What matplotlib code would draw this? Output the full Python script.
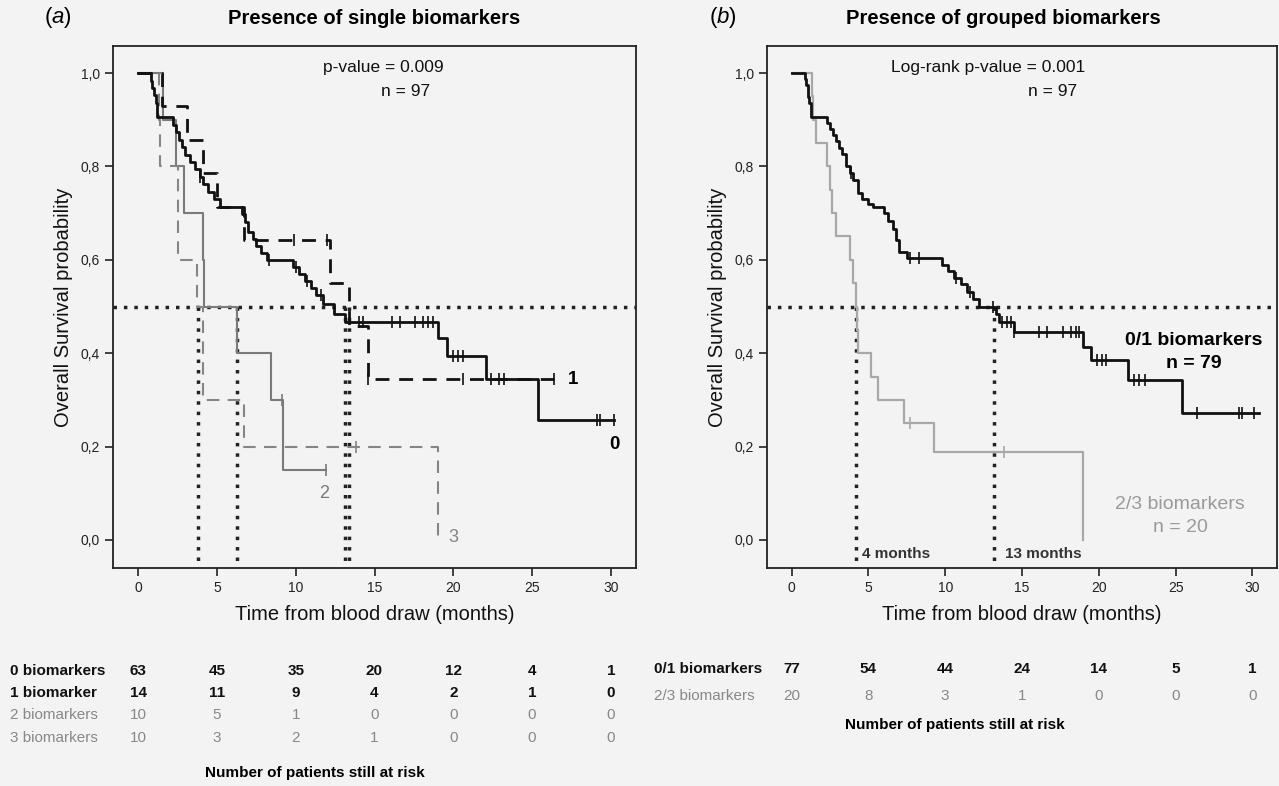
import numpy as np
import matplotlib
matplotlib.use('Agg')
import matplotlib.pyplot as plt
from matplotlib.transforms import blended_transform_factory

plt.rcParams['font.family'] = ['Liberation Sans', 'DejaVu Sans']
plt.rcParams['mathtext.fontset'] = 'custom'
plt.rcParams['mathtext.it'] = 'Liberation Sans:italic'
plt.rcParams['mathtext.rm'] = 'Liberation Sans'

# ---- panel (a): single biomarkers (step times in months, survival after step)
t0 = [0, 0.8, 0.9, 1.0, 1.1, 1.2, 2.2, 2.4, 2.6, 2.8, 3.0, 3.3, 3.6, 3.9, 4.1, 4.4, 4.8, 5.2,
      6.6, 6.8, 7.0, 7.3, 7.5, 7.8, 8.2, 9.8, 10.2, 10.6, 11.0, 11.3, 11.7, 12.4, 13.1,
      19.0, 19.6, 22.1, 25.4, 30.2]
s0 = [1.0, 0.984, 0.968, 0.952, 0.936, 0.905, 0.889, 0.873, 0.857, 0.841, 0.825, 0.81, 0.794,
      0.778, 0.762, 0.746, 0.73, 0.714, 0.698, 0.68, 0.66, 0.645, 0.63, 0.615, 0.60, 0.585,
      0.57, 0.555, 0.54, 0.525, 0.505, 0.485, 0.467, 0.433, 0.394, 0.345, 0.258, 0.258]
c0 = [3.9, 8.3, 10.0, 10.7, 11.6, 14.0, 14.3, 16.1, 16.6, 17.6, 18.1, 18.4, 18.7,
      20.0, 20.3, 20.6, 22.4, 22.9, 23.2, 29.1, 29.3, 30.2]

t1 = [0, 1.5, 3.1, 4.1, 5.0, 6.7, 12.2, 13.4, 14.6, 26.4]
s1 = [1.0, 0.929, 0.857, 0.786, 0.714, 0.643, 0.551, 0.459, 0.344, 0.344]
c1 = [9.9, 12.0, 14.6, 20.6, 26.4]

t2 = [0, 1.6, 2.4, 2.9, 4.1, 4.2, 6.3, 8.4, 9.2, 11.9]
s2 = [1.0, 0.9, 0.8, 0.7, 0.6, 0.5, 0.4, 0.3, 0.15, 0.15]
c2 = [9.15, 11.9]

t3 = [0, 1.3, 1.4, 2.55, 3.75, 4.1, 6.7, 19.0]
s3 = [1.0, 0.9, 0.8, 0.6, 0.5, 0.3, 0.2, 0.0]
c3 = [13.8]

medians_a = [3.8, 6.25, 13.1, 13.4]

# ---- panel (b): grouped biomarkers
tb = [0, 0.85, 0.95, 1.05, 1.1, 1.15, 1.25, 2.3, 2.5, 2.7, 2.9, 3.1, 3.3, 3.55, 3.8, 4.0, 4.3,
      4.6, 5.0, 5.3, 6.0, 6.3, 6.6, 6.8, 7.0, 7.5, 9.8, 10.2, 10.6, 11.0, 11.4, 11.8, 12.2,
      13.3, 13.5, 14.5, 19.0, 19.5, 21.9, 25.4, 30.4]
sb = [1.0, 0.987, 0.974, 0.961, 0.948, 0.935, 0.906, 0.893, 0.88, 0.867, 0.854, 0.84, 0.827,
      0.80, 0.787, 0.772, 0.743, 0.73, 0.72, 0.713, 0.70, 0.683, 0.667, 0.643, 0.617, 0.604,
      0.59, 0.576, 0.562, 0.548, 0.532, 0.516, 0.5, 0.483, 0.467, 0.445, 0.413, 0.385, 0.343,
      0.272, 0.272]
cb = [3.9, 7.7, 8.3, 10.7, 11.6, 13.1, 13.7, 14.0, 14.3, 14.5, 16.1, 16.6, 17.7, 18.2, 18.5,
      18.7, 19.9, 20.2, 20.5, 22.3, 22.6, 23.0, 26.4, 29.1, 29.3, 30.1]

tg = [0, 1.3, 1.4, 1.6, 2.3, 2.5, 2.6, 2.9, 3.8, 4.0, 4.2, 4.25, 4.3, 5.2, 5.6, 7.3, 9.3, 19.0]
sg = [1.0, 0.95, 0.90, 0.85, 0.80, 0.75, 0.70, 0.65, 0.60, 0.55, 0.50, 0.45, 0.40, 0.35,
      0.30, 0.25, 0.1875, 0.0]
cg = [7.7, 13.8]

medians_b = [4.2, 13.2]

# ---- numbers at risk
risk_times = [0, 5, 10, 15, 20, 25, 30]
risk_a_labels = ['0 biomarkers', '1 biomarker', '2 biomarkers', '3 biomarkers']
risk_a = [[63, 45, 35, 20, 12, 4, 1],
          [14, 11, 9, 4, 2, 1, 0],
          [10, 5, 1, 0, 0, 0, 0],
          [10, 3, 2, 1, 0, 0, 0]]
risk_b_labels = ['0/1 biomarkers', '2/3 biomarkers']
risk_b = [[77, 54, 44, 24, 14, 5, 1],
          [20, 8, 3, 1, 0, 0, 0]]

W, H = 1279, 786
BG = '#f3f3f3'
fig = plt.figure(figsize=(W / 100, H / 100), dpi=100, facecolor=BG)


def fy(py):
    return 1 - py / H


def km(ax, t, s, cens, color, ls, lw):
    ax.step(t, s, where='post', color=color, ls=ls, lw=lw, zorder=3)
    t = np.array(t)
    s = np.array(s)
    idx = np.searchsorted(t, cens, side='right') - 1
    ax.plot(cens, s[idx], ls='none', marker='|', ms=9, mew=1.2, color=color, zorder=3)


def style(ax):
    ax.set_facecolor(BG)
    ax.set_xlim(-1.6, 31.6)
    ax.set_ylim(-0.06, 1.058)
    ax.set_xticks(range(0, 31, 5))
    ax.set_yticks(np.arange(0, 1.01, 0.2))
    ax.set_yticklabels([('%.1f' % v).replace('.', ',') for v in np.arange(0, 1.01, 0.2)])
    ax.tick_params(labelsize=10, length=6, width=1.2, colors='#222')
    for sp in ax.spines.values():
        sp.set_color('#222')
        sp.set_linewidth(1.3)
    ax.set_xlabel('Time from blood draw (months)', fontsize=14.5, labelpad=7, color='#111')
    ax.set_ylabel('Overall Survival probability', fontsize=14.5, labelpad=5, color='#111')


def medians(ax, ts):
    ax.axhline(0.5, color='#222', ls=(0, (1, 2)), lw=2.5, zorder=2)
    for m in ts:
        ax.plot([m, m], [0.5, -0.06], color='#222', ls=(0, (1, 2)), lw=2.5, zorder=2)


# ---------------- panel (a)
axa = fig.add_axes([113 / W, fy(568), (636 - 113) / W, (568 - 46) / H])
style(axa)
medians(axa, medians_a)
km(axa, t2, s2, c2, '#7a7a7a', '-', 1.5)
km(axa, t3, s3, c3, '#858585', (0, (6, 4)), 1.5)
km(axa, t1, s1, c1, '#111111', (0, (5, 3.5)), 2.0)
km(axa, t0, s0, c0, '#111111', '-', 2.0)
axa.text(11.7, 1.013, 'p-value = 0.009', fontsize=12.5, ha='left', va='center', color='#111')
axa.text(15.4, 0.96, 'n = 97', fontsize=12.5, ha='left', va='center', color='#111')
axa.text(30.2, 0.205, '0', fontsize=13.5, fontweight='bold', ha='center', va='center')
axa.text(27.3, 0.343, '1', fontsize=13.5, fontweight='bold', ha='left', va='center')
axa.text(11.8, 0.10, '2', fontsize=13, ha='center', va='center', color='#7a7a7a')
axa.text(20.0, 0.006, '3', fontsize=13, ha='center', va='center', color='#858585')
fig.text(58 / W, fy(18), r'($\mathit{a}$)', fontsize=16, ha='center', va='center')
fig.text(374 / W, fy(18), 'Presence of single biomarkers', fontsize=14.5, fontweight='bold',
         ha='center', va='center')

# ---------------- panel (b)
axb = fig.add_axes([767 / W, fy(568), (1277 - 767) / W, (568 - 46) / H])
style(axb)
medians(axb, medians_b)
km(axb, tg, sg, cg, '#a8a8a8', '-', 1.6)
km(axb, tb, sb, cb, '#111111', '-', 2.0)
axb.text(6.5, 1.013, 'Log-rank p-value = 0.001', fontsize=12.5, ha='left', va='center',
         color='#111')
axb.text(15.4, 0.96, 'n = 97', fontsize=12.5, ha='left', va='center', color='#111')
axb.text(26.2, 0.428, '0/1 biomarkers', fontsize=14, fontweight='bold', ha='center', va='center')
axb.text(26.2, 0.379, 'n = 79', fontsize=14, fontweight='bold', ha='center', va='center')
axb.text(25.3, 0.075, '2/3 biomarkers', fontsize=14, ha='center', va='center', color='#9a9a9a')
axb.text(25.3, 0.026, 'n = 20', fontsize=14, ha='center', va='center', color='#9a9a9a')
axb.text(4.6, -0.03, '4 months', fontsize=11, fontweight='bold', ha='left', va='center',
         color='#333')
axb.text(13.9, -0.03, '13 months', fontsize=11, fontweight='bold', ha='left', va='center',
         color='#333')
fig.text(723 / W, fy(18), r'($\mathit{b}$)', fontsize=16, ha='center', va='center')
fig.text(1003 / W, fy(18), 'Presence of grouped biomarkers', fontsize=14.5, fontweight='bold',
         ha='center', va='center')

# ---------------- risk tables
narrow = ['Liberation Sans Narrow', 'Liberation Sans']
tra = blended_transform_factory(axa.transData, fig.transFigure)
rows_a_y = [671, 693, 715, 738]
cols_a = ['#111', '#111', '#888', '#888']
for lab, vals, py, col in zip(risk_a_labels, risk_a, rows_a_y, cols_a):
    w = 'bold' if col == '#111' else 'normal'
    fig.text(10 / W, fy(py), lab, fontsize=11, fontweight=w, color=col, va='center',
             family=narrow)
    for t, v in zip(risk_times, vals):
        axa.text(t, fy(py), str(v), transform=tra, fontsize=11, fontweight=w, color=col,
                 ha='center', va='center', family=narrow)
fig.text(315 / W, fy(773), 'Number of patients still at risk', fontsize=11,
         fontweight='bold', ha='center', va='center', family=narrow)

trb = blended_transform_factory(axb.transData, fig.transFigure)
rows_b_y = [669, 696]
cols_b = ['#111', '#888']
for lab, vals, py, col in zip(risk_b_labels, risk_b, rows_b_y, cols_b):
    w = 'bold' if col == '#111' else 'normal'
    fig.text(654 / W, fy(py), lab, fontsize=11, fontweight=w, color=col, va='center',
             family=narrow)
    for t, v in zip(risk_times, vals):
        axb.text(t, fy(py), str(v), transform=trb, fontsize=11, fontweight=w, color=col,
                 ha='center', va='center', family=narrow)
fig.text(955 / W, fy(725), 'Number of patients still at risk', fontsize=11,
         fontweight='bold', ha='center', va='center', family=narrow)

fig.savefig('out.png', dpi=100, facecolor=BG)
